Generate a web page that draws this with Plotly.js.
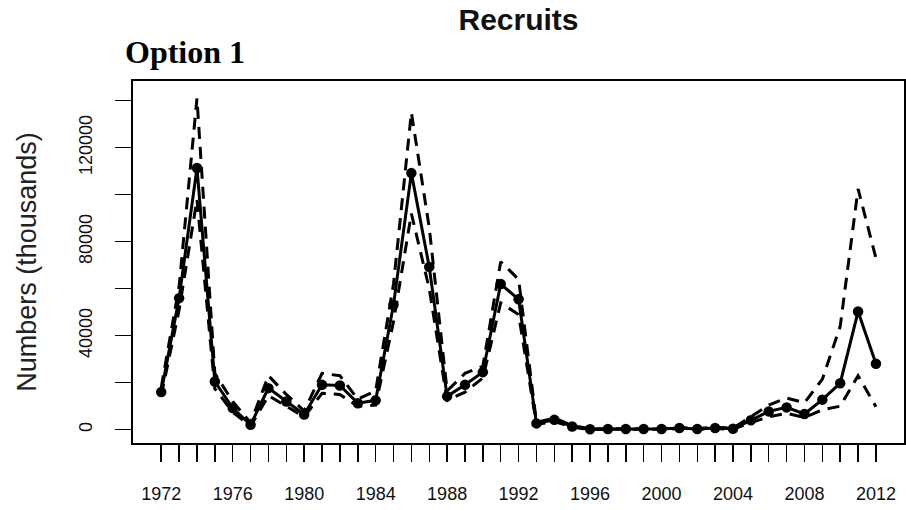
<!DOCTYPE html>
<html>
<head>
<meta charset="utf-8">
<script src="https://cdn.plot.ly/plotly-3.0.1.min.js"></script>
<style>html,body{margin:0;padding:0;background:#fff;}#chart{width:906px;height:510px;}</style>
</head>
<body>
<div id="chart"></div>
<script>
const years = [1972,1973,1974,1975,1976,1977,1978,1979,1980,1981,1982,1983,1984,1985,1986,1987,1988,1989,1990,1991,1992,1993,1994,1995,1996,1997,1998,1999,2000,2001,2002,2003,2004,2005,2006,2007,2008,2009,2010,2011,2012];
const recruits = [16000,56000,111400,20500,9200,2100,17700,12000,6500,19100,18800,11300,12500,53200,109200,69300,14200,19100,24500,62000,55500,2700,4200,1400,200,300,300,300,300,700,300,700,400,4000,7800,9500,6700,12800,19800,50300,28100];
const upper = [18000,61000,141000,24000,12000,3000,23000,15000,8000,24000,23000,13000,16500,62000,135000,86000,16500,24000,27000,71500,64000,3200,5000,1800,400,500,500,500,500,1000,500,1000,700,5500,10500,13500,11500,21500,44000,102500,73000];
const lower = [14500,51000,98000,17500,7500,1500,14500,10000,5500,15500,15000,10000,10500,46000,92000,60000,12500,16000,22000,54000,49000,2300,3500,1100,100,150,150,150,150,500,150,500,200,3000,5500,7000,5200,8500,10000,23000,9800];
const xTickVals = years;
const xTickText = years.map(y => ((y - 1972) % 4 === 0) ? String(y) : '');
const yTickVals = [0,20000,40000,60000,80000,100000,120000,140000];
const yTickText = ['0','','40000','','80000','','120000',''];

const dashLine = {color:'#000', width:3, dash:'12px,8px'};
const traces = [
  {x: years, y: upper, type:'scatter', mode:'lines', line: dashLine, hoverinfo:'skip', showlegend:false},
  {x: years, y: lower, type:'scatter', mode:'lines', line: dashLine, hoverinfo:'skip', showlegend:false},
  {x: years, y: recruits, type:'scatter', mode:'lines+markers', line:{color:'#000', width:3}, marker:{color:'#000', size:10.5}, showlegend:false}
];

const layout = {
  width: 906, height: 510,
  margin: {l:133, r:2, t:81, b:67, pad:0},
  paper_bgcolor:'#fff', plot_bgcolor:'#fff',
  font: {family:'"Liberation Sans", Arial, sans-serif', color:'#111'},
  title: {text:'<b>Recruits</b>', font:{size:30, color:'#111', family:'"Liberation Sans", Arial, sans-serif'}, x:0.5, xref:'paper', xanchor:'center', y:0.962, yref:'container', yanchor:'middle'},
  xaxis: {
    range:[1970.42, 2013.57], autorange:false,
    showgrid:false, zeroline:false,
    showline:true, mirror:true, linecolor:'#000', linewidth:2,
    ticks:'outside', ticklen:17, tickwidth:1.5, tickcolor:'#000',
    tickmode:'array', tickvals:xTickVals, ticktext:xTickText,
    tickfont:{size:18, color:'#111'}, ticklabelstandoff:16,
    automargin:false
  },
  yaxis: {
    range:[-5650, 148400], autorange:false,
    showgrid:false, zeroline:false,
    showline:true, mirror:true, linecolor:'#000', linewidth:2,
    ticks:'outside', ticklen:16, tickwidth:1.5, tickcolor:'#000',
    tickmode:'array', tickvals:yTickVals, ticktext:yTickText,
    tickangle:-90, tickfont:{size:18, color:'#111'}, ticklabelstandoff:16,
    title:{text:'Numbers (thousands)', font:{size:27, color:'#222'}, standoff:31},
    automargin:false
  },
  annotations: [
    {text:'<b>Option 1</b>', xref:'paper', yref:'paper', x:-0.0125, y:1.08, xanchor:'left', yanchor:'middle', showarrow:false, font:{family:'"Liberation Serif", "Times New Roman", serif', size:32, color:'#000'}}
  ]
};
Plotly.newPlot('chart', traces, layout, {staticPlot:true, displayModeBar:false});
</script>
</body>
</html>
